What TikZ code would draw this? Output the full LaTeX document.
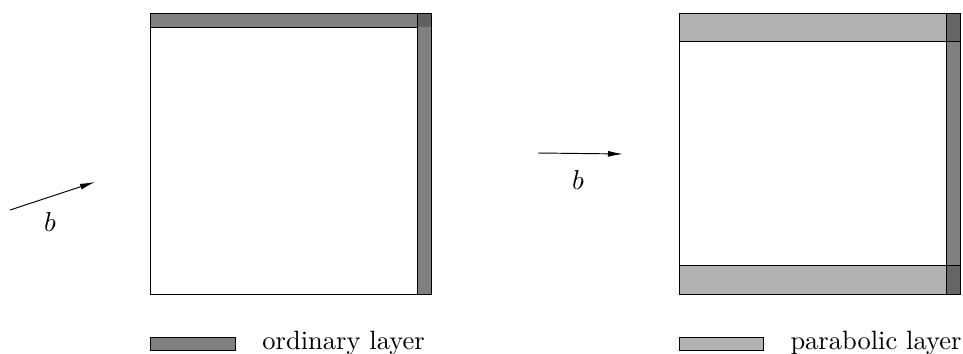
\documentclass[tikz,border=0pt]{standalone}
\usetikzlibrary{arrows.meta}
\definecolor{darkl}{gray}{0.5}
\definecolor{lightl}{gray}{0.7}
\definecolor{cornl}{gray}{0.38}
\definecolor{cornr}{gray}{0.4}
\begin{document}
\begin{tikzpicture}[x=0.4pt,y=-0.4pt,
  box/.style={draw=black,line width=0.38pt},
  layer/.style={draw=black,line width=0.38pt},
  vec/.style={line width=0.38pt,-{Latex[length=6pt,width=2.4pt]}},
  lbl/.style={inner sep=0pt,anchor=west,font=\fontsize{10.6}{13}\selectfont},
  bl/.style={font=\fontsize{10.8}{13}\selectfont}]
\useasboundingbox (0,0) rectangle (963,354);
% left square
\fill[darkl] (150,13) rectangle (431,27);
\fill[darkl] (417,13) rectangle (431,294);
\fill[cornl] (417,13) rectangle (431,27);
\draw[layer] (150,27) -- (417,27) (417,13) -- (417,294);
\draw[box] (150,13) rectangle (431,294);
% right square
\fill[lightl] (679,13) rectangle (960,41);
\fill[lightl] (679,265) rectangle (960,294);
\fill[darkl] (946,13) rectangle (960,294);
\fill[cornr] (946,13) rectangle (960,41);
\fill[cornr] (946,265) rectangle (960,294);
\draw[layer] (679,41) -- (960,41) (679,265) -- (960,265) (946,13) -- (946,294);
\draw[box] (679,13) rectangle (960,294);
% arrows
\coordinate (a1) at (10,210);
\coordinate (a2) at (95,182);
\draw[vec] (a1) -- (a2);
\node[bl] (b1) at (50,222) {$b$};
\coordinate (c1) at (538,153);
\coordinate (c2) at (623,154);
\draw[vec] (c1) -- (c2);
\node[bl] (b2) at (578,180) {$b$};
% legend
\draw[layer,fill=darkl] (150,337) rectangle (235,350);
\node[lbl] (t1) at (262,343) {ordinary layer};
\draw[layer,fill=lightl] (679,337) rectangle (763,350);
\node[lbl] (t2) at (790,343) {parabolic layer};
\end{tikzpicture}
\end{document}
